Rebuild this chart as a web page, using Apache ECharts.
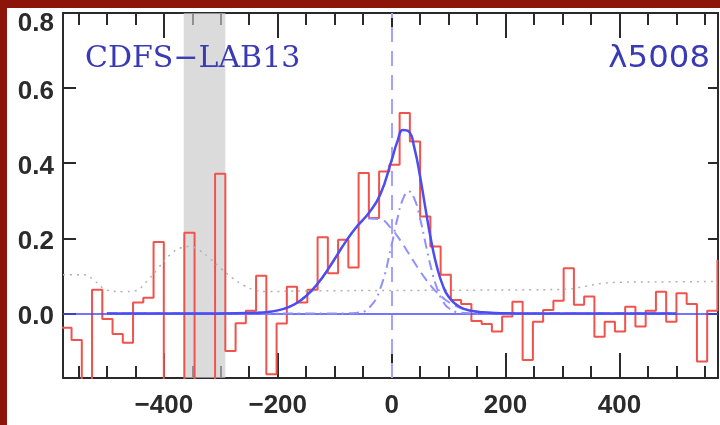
<!DOCTYPE html>
<html><head><meta charset="utf-8">
<script src="https://cdn.jsdelivr.net/npm/echarts@6/dist/echarts.min.js"></script>
<style>html,body{margin:0;padding:0;background:#fff}#c{width:720px;height:425px}</style>
</head><body><div id="c"></div>
<script>
// ---- data ----
const binEdges = [-580,-562,-544,-526,-508,-490,-472,-454,-436,-418,-400,-382,-364,-346,-328,-310,-292,-274,-256,-238,-220,-202,-184,-166,-148,-130,-112,-94,-76,-58,-40,-22,-4,14,32,50,68,86,104,122,140,158,176,194,212,230,248,266,284,302,320,338,356,374,392,410,428,446,464,482,500,518,536,554,572];
const fluxValues = [-0.038,-0.071,-0.30,0.063,-0.015,-0.055,-0.078,0.029,0.042,0.190,
  -0.30,-0.25,0.215,-0.30,-0.25,0.372,-0.100,-0.026,0.007,0.100,
  -0.162,-0.027,0.071,0.029,0.063,0.203,0.107,0.196,0.122,0.374,
  0.254,0.378,0.396,0.534,0.458,0.258,0.178,0.103,0.036,0.025,
  -0.020,-0.028,-0.048,-0.008,0.031,-0.124,-0.022,0.009,0.034,0.120,
  0.023,0.045,-0.062,-0.022,-0.048,0.018,-0.035,0.007,0.058,-0.022,
  0.054,0.025,-0.128,0.007,0.143];
const noiseVel  = [-577,-540,-520,-500,-470,-450,-430,-410,-390,-370,-355,-340,-320,-300,-280,-260,-240,-220,-150,0,150,250,310,340,370,400,480,572];
const noiseFlux = [0.103,0.103,0.085,0.062,0.058,0.060,0.085,0.120,0.155,0.175,0.178,0.170,0.148,0.120,0.095,0.075,0.062,0.058,0.060,0.061,0.062,0.063,0.065,0.072,0.080,0.083,0.084,0.085];
const modelVel   = [-500,-300,-250,-220,-200,-180,-160,-140,-120,-100,-80,-60,-40,-20,0,10,20,30,40,50,60,70,80,90,100,120,140,160,180,200,250,300,500];
const broadComp  = [0,0,0.001,0.0034,0.0081,0.0176,0.0345,0.0614,0.0991,0.145,0.1925,0.2317,0.253,0.2506,0.225,0.2056,0.1833,0.1595,0.1354,0.1122,0.0908,0.0716,0.0552,0.0414,0.0304,0.0152,0.0069,0.0028,0.0011,0.0003,0,0,0];
const narrowComp = [0,0,0,0,0,0,0,0,0,0,0.0001,0.0019,0.0143,0.066,0.183,0.2518,0.3049,0.325,0.3049,0.2518,0.183,0.1171,0.066,0.0327,0.0143,0.0019,0.0001,0,0,0,0,0,0];
const totalFit   = [0,0,0.001,0.0034,0.0081,0.0176,0.0345,0.0614,0.0991,0.145,0.1926,0.2336,0.2673,0.3166,0.408,0.4574,0.4882,0.4845,0.4403,0.364,0.2738,0.1887,0.1212,0.0741,0.0447,0.0171,0.007,0.0028,0.0011,0.0003,0,0,0];
const maskedRange = [-365, -292];
const xMajorTicks = [-400,-200,0,200,400];
const xMinorTicks = [-550,-500,-450,-350,-300,-250,-150,-100,-50,50,100,150,250,300,350,450,500,550];
const yMajorTicks = [0,0.2,0.4,0.6,0.8];
const xRange = [-577, 573];
const yRange = [-0.172, 0.8];
const objectName = 'CDFS\u2212LAB13';
const lineName = '\u03bb5008';

// ---- chart ----
const axisColor = '#2a2a2a';
const labelFont = {fontFamily:'Liberation Sans', fontWeight:'bold', fontSize:26, color:'#2b2b2b'};
function xAxisDef(pos, ticks, len, showLine, showLabel){
  return {type:'value', position:pos, min:xRange[0], max:xRange[1],
    axisLine:{show:showLine, onZero:false, lineStyle:{color:axisColor, width:2}},
    axisTick:{show:true, inside:true, length:len, customValues:ticks, lineStyle:{color:axisColor, width:2}},
    axisLabel:showLabel ? Object.assign({show:true, customValues:ticks, margin:15,
       formatter:v => v < 0 ? '\u2212' + Math.abs(v) : String(v)}, labelFont) : {show:false},
    splitLine:{show:false}};
}
const lab = (p) => Object.assign({padding:[p,0,0,0]}, labelFont);
const option = {
  animation:false,
  grid:{left:63, right:2, top:13, bottom:47, containLabel:false},
  xAxis:[
    xAxisDef('bottom', xMajorTicks, 25, true, true),
    xAxisDef('bottom', xMinorTicks, 12, false, false),
    xAxisDef('top', xMajorTicks, 25, true, false),
    xAxisDef('top', xMinorTicks, 12, false, false)
  ],
  yAxis:[
    {type:'value', position:'left', min:yRange[0], max:yRange[1],
     axisLine:{show:true, onZero:false, lineStyle:{color:axisColor, width:2}},
     axisTick:{show:true, inside:true, length:13, customValues:yMajorTicks, lineStyle:{color:axisColor, width:2}},
     axisLabel:{show:true, customValues:yMajorTicks, margin:9,
       formatter:v => (v === yMajorTicks[yMajorTicks.length-1] ? '{t|' : '{n|') + v.toFixed(1) + '}',
       rich:{t:lab(22), n:lab(7)}},
     splitLine:{show:false}},
    {type:'value', position:'right', min:yRange[0], max:yRange[1],
     axisLine:{show:true, onZero:false, lineStyle:{color:axisColor, width:2}},
     axisTick:{show:true, inside:true, length:10, customValues:yMajorTicks, lineStyle:{color:axisColor, width:2}},
     axisLabel:{show:false}, splitLine:{show:false}}
  ],
  series:[
    {type:'line', name:'flux', step:'end', symbol:'none', z:2,
     data:binEdges.map((v,i)=>[v, fluxValues[i]]),
     lineStyle:{color:'#f0524c', width:2}},
    {type:'line', name:'mask', data:[], z:3, symbol:'none',
     markArea:{silent:true, itemStyle:{color:'rgba(200,200,200,0.65)'},
       data:[[{xAxis:maskedRange[0]},{xAxis:maskedRange[1]}]]}},
    {type:'line', name:'noise', smooth:0.4, symbol:'none', z:4,
     data:noiseVel.map((v,i)=>[v, noiseFlux[i]]),
     lineStyle:{color:'#b2b2b2', width:1.5, type:[2,5]}},
    {type:'line', name:'refs', data:[], z:4, symbol:'none',
     markLine:{silent:true, symbol:['none','none'], label:{show:false},
       data:[
         {xAxis:0, lineStyle:{color:'#a2a2ff', width:2, type:[15,9]}},
         {yAxis:0, lineStyle:{color:'#4646ff', width:1.5, type:'solid'}}
       ]}},
    {type:'line', name:'broad', smooth:true, symbol:'none', z:5,
     data:modelVel.map((v,i)=>[v, broadComp[i]]),
     lineStyle:{color:'#9090ff', width:2, type:[10,6]}},
    {type:'line', name:'narrow', smooth:true, symbol:'none', z:5,
     data:modelVel.map((v,i)=>[v, narrowComp[i]]),
     lineStyle:{color:'#9090ff', width:2, type:[10,5,2,5]}},
    {type:'line', name:'total', smooth:true, symbol:'none', z:6,
     data:modelVel.map((v,i)=>[v, totalFit[i]]),
     lineStyle:{color:'#4c4cf0', width:2.5}}
  ],
  graphic:[
    {type:'rect', shape:{x:0, y:0, width:720, height:8}, style:{fill:'#8c1408'}, z:100},
    {type:'rect', shape:{x:0, y:0, width:7, height:425}, style:{fill:'#8c1408'}, z:100},
    {type:'text', x:85, y:59, z:100,
     style:{text:objectName, font:'30px "DejaVu Serif"', fill:'#3a3ab4', align:'left', verticalAlign:'middle'}},
    {type:'text', x:710, y:59, z:100, scaleX:1.08, originX:0, originY:0,
     style:{text:lineName, font:'30px "DejaVu Sans"', fill:'#3a3ab4', align:'right', verticalAlign:'middle'}}
  ]
};
echarts.init(document.getElementById('c'), null, {renderer:'canvas'}).setOption(option);
</script>
</body></html>
